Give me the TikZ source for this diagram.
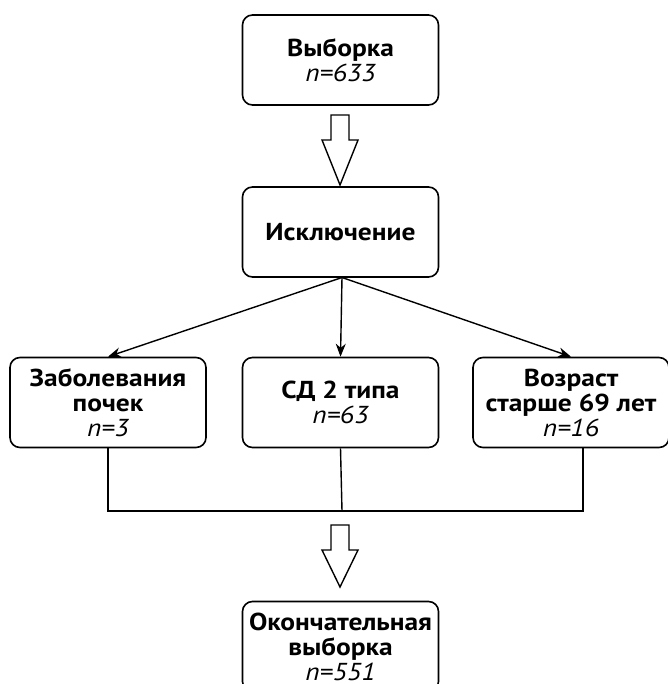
\documentclass[tikz,border=0pt]{standalone}
\usepackage{fontspec}
\setmainfont{PT Sans}[FakeStretch=1.12]
\usetikzlibrary{arrows.meta}

\newcommand{\nval}[1]{{\mdseries\itshape #1}}

\tikzset{
    stagebox/.style={draw, line width=1.6pt, rounded corners=10pt,
        minimum width=196pt, minimum height=90pt, inner sep=0pt,
        align=center, font=\bfseries\fontsize{24.5}{25}\selectfont},
    link/.style={line width=1.4pt, -{Stealth[length=13pt, width=10pt]}},
    joinline/.style={line width=1.4pt},
    hollow/.style={draw, line width=1.4pt, fill=white, line join=miter},
}

\begin{document}
\begin{tikzpicture}[x=1pt, y=-1pt]
    \useasboundingbox (0, 0) rectangle (667, 684);
    \node[stagebox](sample) at (340.5, 60) {Выборка\\\nval{n=633}};
    \node[stagebox](excl) at (340.5, 232) {Исключение};
    \node[stagebox](kidney) at (108, 402.5) {Заболевания\\почек\\\nval{n=3}};
    \node[stagebox](diab) at (340.5, 402.5) {СД 2 типа\\\nval{n=63}};
    \node[stagebox](age) at (571, 402.5) {Возраст\\старше 69 лет\\\nval{n=16}};
    \node[stagebox](final) at (340.5, 646.5) {Окончательная\\выборка\\\nval{n=551}};
    \coordinate(split) at (342, 277.5);
    \coordinate(join) at (342, 511);
    \coordinate(ageout) at (583, 447);
    \coordinate(arrowA) at (340, 115);
    \coordinate(arrowB) at (340, 525);
    % hollow arrows between the stages
    \draw[hollow] (arrowA) ++(-9, 0) -- ++(0, 25) -- ++(-9, 0) -- ++(18, 45)
        -- ++(18, -45) -- ++(-9, 0) -- ++(0, -25) -- cycle;
    \draw[hollow] (arrowB) ++(-9, 0) -- ++(0, 25) -- ++(-9, 0) -- ++(18, 37)
        -- ++(18, -37) -- ++(-9, 0) -- ++(0, -25) -- cycle;
    % exclusion branches
    \draw[link] (split) -- (kidney.north);
    \draw[link] (split) -- (diab.north);
    \draw[link] (split) -- (age.north);
    % merge
    \draw[joinline] (kidney.south) |- (ageout |- join) -- (ageout);
    \draw[joinline] (diab.south) -- (join);
\end{tikzpicture}
\end{document}
